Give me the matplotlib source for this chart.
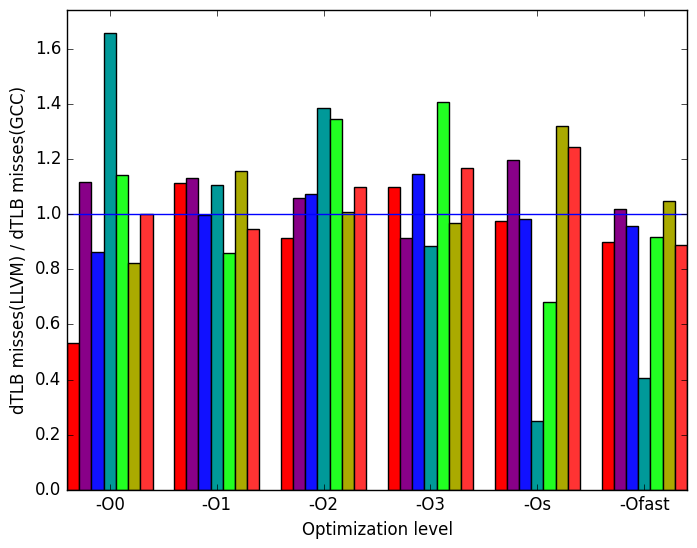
import numpy as np
import matplotlib
matplotlib.use("Agg")
import matplotlib.pyplot as plt

levels = ["-O0", "-O1", "-O2", "-O3", "-Os", "-Ofast"]

# one series per colour, values per optimization level
s1 = [0.533, 1.111, 0.913, 1.097, 0.974, 0.898]
s2 = [1.115, 1.130, 1.057, 0.913, 1.195, 1.017]
s3 = [0.862, 0.996, 1.073, 1.144, 0.981, 0.956]
s4 = [1.657, 1.105, 1.383, 0.884, 0.251, 0.407]
s5 = [1.140, 0.858, 1.343, 1.405, 0.681, 0.916]
s6 = [0.822, 1.155, 1.009, 0.968, 1.321, 1.046]
s7 = [1.000, 0.945, 1.097, 1.166, 1.242, 0.887]

series = [s1, s2, s3, s4, s5, s6, s7]
colors = ["#ff0000", "#880088", "#1111ff", "#009999", "#22ff22", "#aaaa00", "#ff3333"]

plt.style.use("classic")
fig = plt.figure(figsize=(6.97, 5.48), dpi=100, facecolor="white")
ax = fig.add_axes([0.0961, 0.1058, 0.8896, 0.876])

group_w = 0.8
bw = group_w / len(series)
x = np.arange(len(levels))
for j, (vals, c) in enumerate(zip(series, colors)):
    ax.bar(x + j * bw, vals, bw, color=c, edgecolor="black", linewidth=1, align="edge")

ax.axhline(1.0, color="blue", linewidth=1)

ymax = max(max(s) for s in series)
ax.set_ylim(0, ymax * 1.05)
ax.set_xlim(0, len(levels) - 1 + group_w)
ax.set_xticks(x + group_w / 2)
ax.set_xticklabels(levels)
ax.set_yticks(np.arange(0, 1.7, 0.2))
ax.yaxis.set_major_formatter(matplotlib.ticker.FormatStrFormatter("%.1f"))

ax.set_xlabel("Optimization level")
ax.set_ylabel("dTLB misses(LLVM) / dTLB misses(GCC)")

fig.savefig("out.png", dpi=100, facecolor="white")
